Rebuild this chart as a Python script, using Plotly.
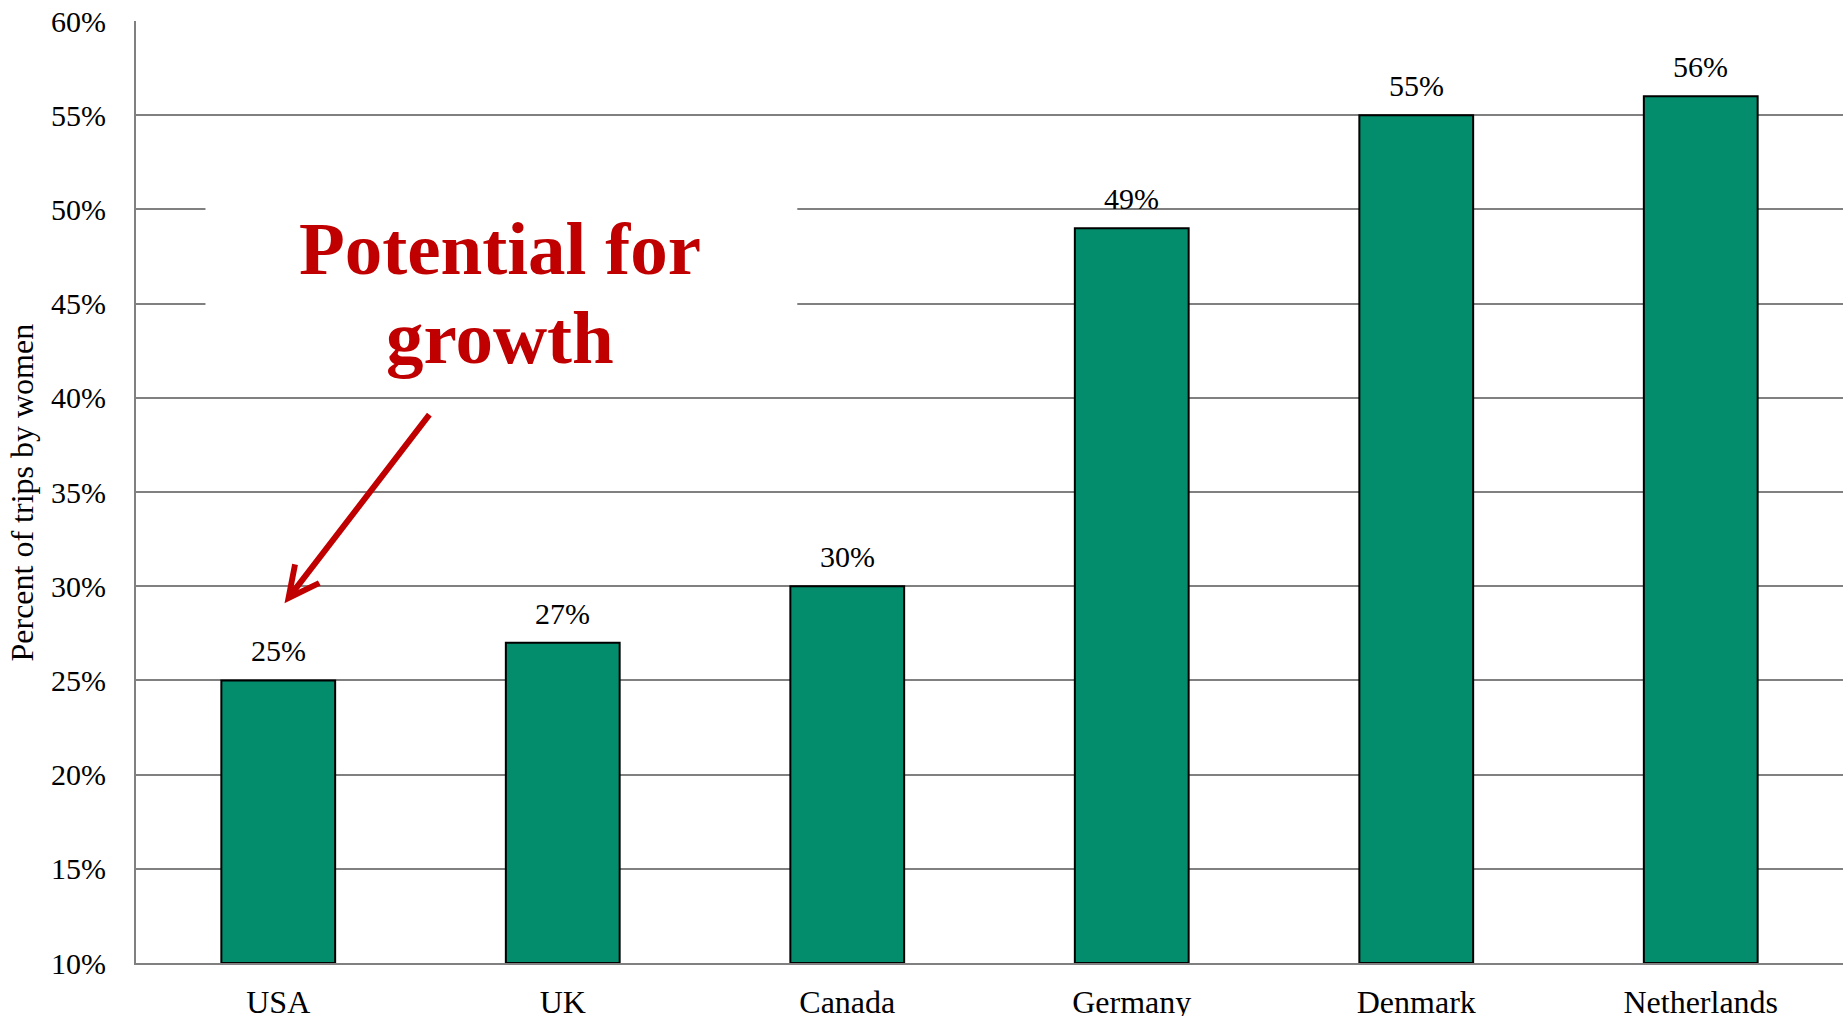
import plotly.graph_objects as go

countries = ["USA", "UK", "Canada", "Germany", "Denmark", "Netherlands"]
women_share = [25, 27, 30, 49, 55, 56]
y_ticks = [10, 15, 20, 25, 30, 35, 40, 45, 50, 55, 60]
y_tick_labels = [f"{v}%" for v in y_ticks]
callout_lines = ["Potential for", "growth"]

FONT = "Liberation Serif, Times New Roman, serif"
GREEN = "#038D6D"
RED = "#C00000"

fig = go.Figure()
fig.add_trace(go.Bar(
    x=countries, y=[v - 10 for v in women_share], base=10,
    marker=dict(color=GREEN, line=dict(color="black", width=2)),
    hoverinfo="skip", showlegend=False,
))

for c, v in zip(countries, women_share):
    fig.add_annotation(x=c, y=v, text=f"{v}%", showarrow=False,
                       xanchor="center", yanchor="bottom", yshift=11,
                       font=dict(family=FONT, size=30, color="black"))

# white box behind callout text
fig.add_shape(type="rect", xref="paper", yref="y", x0=0.0407, x1=0.3874,
              y0=41, y1=52, fillcolor="white", line=dict(width=0), layer="above")

fig.add_annotation(xref="paper", yref="y", x=0.2135, y=47.9, text=f"<b>{callout_lines[0]}</b>",
                   showarrow=False, xanchor="center", yanchor="middle",
                   font=dict(family=FONT, size=75, color=RED))
fig.add_annotation(xref="paper", yref="y", x=0.2135, y=43.2, text=f"<b>{callout_lines[1]}</b>",
                   showarrow=False, xanchor="center", yanchor="middle",
                   font=dict(family=FONT, size=75, color=RED))

# arrow
fig.add_annotation(x=0.022, y=29.1, xref="x", yref="y", text="", showarrow=True,
                   ax=146, ay=-190, axref="pixel", ayref="pixel",
                   arrowhead=5, arrowsize=1, arrowwidth=6, arrowcolor=RED,
                   standoff=0, startstandoff=0)

# y axis title
fig.add_annotation(xref="paper", yref="paper", x=-0.0665, y=0.5, text="Percent of trips by women",
                   textangle=-90, showarrow=False, xanchor="center", yanchor="middle",
                   font=dict(family=FONT, size=32, color="black"))

fig.update_layout(
    width=1843, height=1016,
    margin=dict(l=136, r=0, t=21, b=53, autoexpand=False),
    paper_bgcolor="white", plot_bgcolor="white",
    bargap=0.6,
    font=dict(family=FONT, size=30, color="black"),
    xaxis=dict(showline=True, linecolor="#808080", linewidth=2, showgrid=False,
               ticks="", ticklabelstandoff=10, tickfont=dict(size=32)),
    yaxis=dict(range=[10, 60], tickvals=y_ticks, ticktext=y_tick_labels,
               showline=True, linecolor="#808080", linewidth=2,
               showgrid=True, gridcolor="#808080", gridwidth=1.5, zeroline=False,
               ticks="", ticklabelstandoff=22, tickfont=dict(size=30)),
)

fig.write_html("out.html")
